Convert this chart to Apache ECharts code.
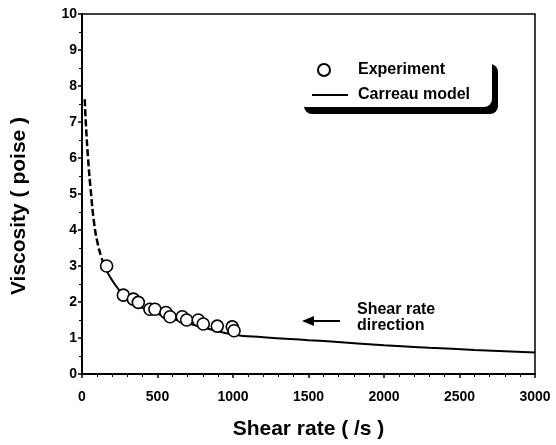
<!DOCTYPE html>
<html><head><meta charset="utf-8">
<script src="https://cdn.jsdelivr.net/npm/echarts@6/dist/echarts.min.js"></script>
<style>html,body{margin:0;padding:0;background:#fff}#c{width:556px;height:445px}</style>
</head><body><div id="c"></div>
<script>
// Experimental data (shear rate /s, viscosity poise)
var expX = [163, 274, 340, 373, 450, 483, 556, 583, 664, 693, 770, 803, 896, 995, 1007];
var expY = [3.0, 2.19, 2.08, 1.99, 1.8, 1.8, 1.71, 1.59, 1.59, 1.5, 1.5, 1.39, 1.33, 1.31, 1.2];
// Carreau model curve: dashed (extrapolated) part and solid part
var dashX = [18, 25, 40, 60, 80, 100, 128, 160];
var dashY = [7.63, 7.0, 6.0, 5.0, 4.2, 3.7, 3.25, 2.9];
var solidX = [160, 200, 274, 350, 450, 550, 650, 800, 1000, 1200, 1500, 1650, 2000, 2300, 2600, 3000];
var solidY = [2.9, 2.6, 2.2, 1.95, 1.75, 1.6, 1.47, 1.3, 1.1, 1.02, 0.94, 0.9, 0.8, 0.73, 0.67, 0.6];
var xTicks = [0, 500, 1000, 1500, 2000, 2500, 3000];
var yTicks = [0, 1, 2, 3, 4, 5, 6, 7, 8, 9, 10];

function pairs(xs, ys) { return xs.map(function (x, i) { return [x, ys[i]]; }); }

var chart = echarts.init(document.getElementById('c'));
var F = 'Arial, "Liberation Sans", sans-serif';
var axisCommon = {
  axisLine: { show: true, lineStyle: { color: '#000', width: 2 } },
  axisTick: { show: true, inside: false, length: 4, lineStyle: { color: '#000', width: 1.5 } },
  splitLine: { show: false },
  axisLabel: { color: '#000', fontWeight: 'bold', fontSize: 14, fontFamily: F, formatter: function (v) { return String(v); } },
  nameTextStyle: { color: '#000', fontWeight: 'bold', fontSize: 21, fontFamily: F }
};
var legendText = { color: '#000', fontWeight: 'bold', fontSize: 16, fontFamily: F, padding: [0, 0, 0, 5] };
chart.setOption({
  animation: false,
  backgroundColor: '#fff',
  grid: { left: 82, right: 21, top: 14, bottom: 71, show: true, borderColor: '#000', borderWidth: 1.5 },
  xAxis: Object.assign({}, axisCommon, {
    type: 'value', min: xTicks[0], max: xTicks[xTicks.length - 1], interval: 500,
    name: 'Shear rate ( /s )', nameLocation: 'middle', nameGap: 45,
    minorTick: { show: true, splitNumber: 5, length: 3, lineStyle: { color: '#000', width: 1 } },
    axisLabel: Object.assign({}, axisCommon.axisLabel, { margin: 16 })
  }),
  yAxis: Object.assign({}, axisCommon, {
    type: 'value', min: yTicks[0], max: yTicks[yTicks.length - 1], interval: 1,
    name: 'Viscosity ( poise )', nameLocation: 'middle', nameGap: 52,
    nameTextStyle: Object.assign({}, axisCommon.nameTextStyle, { padding: [0, 24, 0, 0] }),
    minorTick: { show: true, splitNumber: 2, length: 3, lineStyle: { color: '#000', width: 1 } },
    axisLabel: Object.assign({}, axisCommon.axisLabel, { margin: 5 })
  }),
  legend: [
    { orient: 'vertical', left: 312, top: 57, itemWidth: 36, itemHeight: 12,
      textStyle: Object.assign({}, legendText, { padding: [0, 0, 0, 11] }), data: [{ name: 'Experiment' }] },
    { orient: 'vertical', left: 307, top: 81, itemWidth: 36, itemHeight: 2, icon: 'rect',
      textStyle: Object.assign({}, legendText, { lineHeight: 18 }), data: [{ name: 'Carreau model' }] }
  ],
  series: [
    { name: 'Carreau model dashed', type: 'line', data: pairs(dashX, dashY), smooth: true, symbol: 'none',
      lineStyle: { color: '#000', width: 2.5, type: [7, 3] }, z: 2 },
    { name: 'Carreau model', type: 'line', data: pairs(solidX, solidY), smooth: true, symbol: 'none',
      lineStyle: { color: '#000', width: 2 }, itemStyle: { color: '#000' }, z: 2 },
    { name: 'Experiment', type: 'scatter', data: pairs(expX, expY), symbol: 'circle', symbolSize: 12,
      itemStyle: { color: '#fff', borderColor: '#000', borderWidth: 1.6, opacity: 1 }, z: 3 }
  ],
  graphic: [
    { type: 'rect', z: 0, shape: { x: 298, y: 57, width: 194, height: 50, r: 8 },
      style: { fill: '#fff', stroke: null, shadowColor: '#000', shadowOffsetX: 6, shadowOffsetY: 7, shadowBlur: 0 } },
    { type: 'line', z: 10, shape: { x1: 304, y1: 321, x2: 340, y2: 321 }, style: { stroke: '#000', lineWidth: 2 } },
    { type: 'polygon', z: 10, shape: { points: [[302, 321], [314, 316], [314, 326]] }, style: { fill: '#000' } },
    { type: 'text', z: 10, left: 357, top: 302,
      style: { text: 'Shear rate\ndirection', fill: '#000', font: 'bold 16px ' + F, lineHeight: 16 } }
  ]
});
</script>
</body></html>
